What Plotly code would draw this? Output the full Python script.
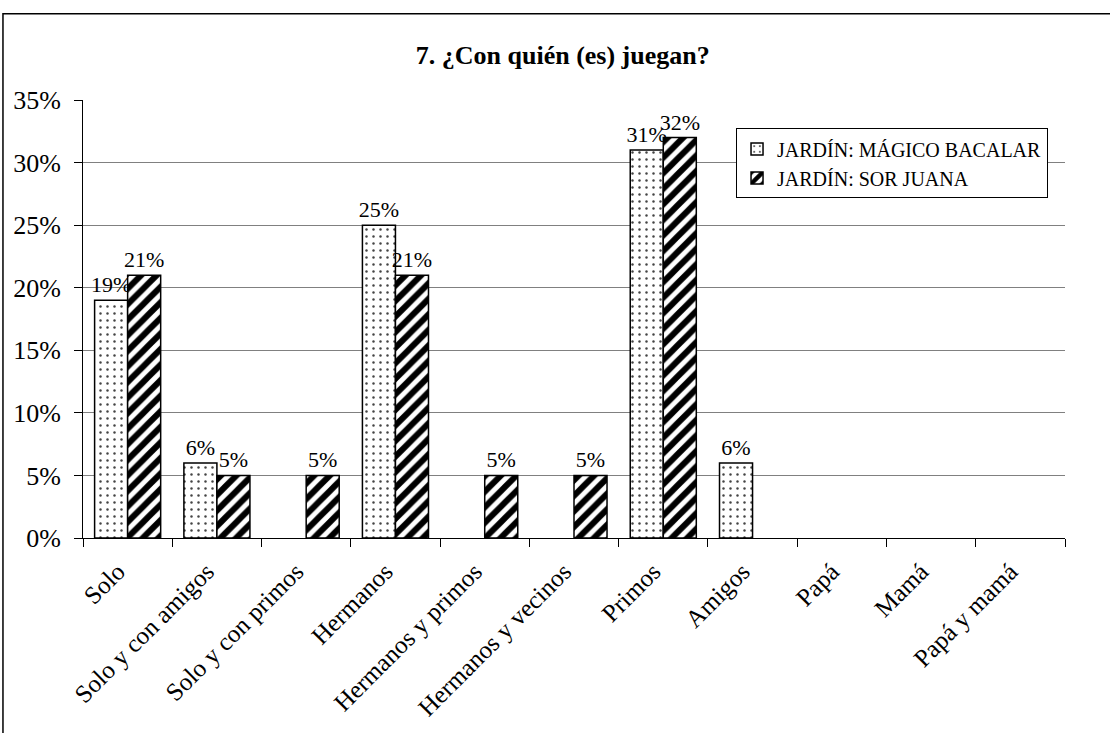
import plotly.graph_objects as go

# categories and percentages
categorias = ["Solo", "Solo y con amigos", "Solo y con primos", "Hermanos",
              "Hermanos y primos", "Hermanos y vecinos", "Primos", "Amigos",
              "Papá", "Mamá", "Papá y mamá"]
magico_bacalar = [19, 6, 0, 25, 0, 0, 31, 6, 0, 0, 0]
sor_juana = [21, 5, 5, 21, 5, 5, 32, 0, 0, 0, 0]
y_ticks = [0, 5, 10, 15, 20, 25, 30, 35]

FONT = "Liberation Serif"


def etiquetas(vals):
    return [f"{v}%" if v > 0 else "" for v in vals]


def sin_ceros(vals):
    # zero bars are not drawn in the original
    return [v if v > 0 else None for v in vals]


fig = go.Figure()

fig.add_trace(go.Bar(
    x=categorias, y=sin_ceros(magico_bacalar), name="JARDÍN: MÁGICO BACALAR",
    text=etiquetas(magico_bacalar), textposition="outside",
    textfont=dict(family=FONT, size=22, color="black"),
    cliponaxis=False, constraintext="none",
    marker=dict(color="white", line=dict(color="black", width=1.5),
                pattern=dict(shape=".", fgcolor="#444444", bgcolor="white",
                             size=7, solidity=0.1, fgopacity=1)),
))
fig.add_trace(go.Bar(
    x=categorias, y=sin_ceros(sor_juana), name="JARDÍN: SOR JUANA",
    text=etiquetas(sor_juana), textposition="outside",
    textfont=dict(family=FONT, size=22, color="black"),
    cliponaxis=False, constraintext="none",
    marker=dict(color="white", line=dict(color="black", width=1.5),
                pattern=dict(shape="/", fgcolor="black", bgcolor="white",
                             size=11, solidity=0.55, fgopacity=1)),
))

fig.update_layout(
    width=1110, height=733,
    margin=dict(l=83, r=45, t=100, b=192),
    paper_bgcolor="white", plot_bgcolor="white",
    font=dict(family=FONT, size=21, color="black"),
    barmode="group", bargap=0.26, bargroupgap=0,
    title=dict(text="<b>7. ¿Con quién (es) juegan?</b>", x=0.507, xref="container",
               y=0.925, yref="container", xanchor="center", yanchor="middle",
               font=dict(family=FONT, size=26, color="black")),
    showlegend=True,
    legend=dict(x=0.665, y=0.935, xanchor="left", yanchor="top",
                bordercolor="black", borderwidth=1, bgcolor="white",
                font=dict(family=FONT, size=20, color="black"),
                traceorder="normal", itemwidth=30,
                tracegroupgap=0),
)

fig.update_xaxes(
    showline=True, linecolor="black", linewidth=1,
    ticks="outside", ticklen=8, tickcolor="black", tickson="boundaries",
    tickangle=-45, tickfont=dict(family=FONT, size=25),
    ticklabelstandoff=8, ticklabelshift=-10, showgrid=False,
)
fig.update_yaxes(
    range=[0, 35], tickvals=y_ticks, ticktext=[f"{v}%" for v in y_ticks],
    showline=True, linecolor="black", linewidth=1,
    ticks="outside", ticklen=8, tickcolor="black",
    showgrid=True, gridcolor="#808080", gridwidth=1,
    tickfont=dict(family=FONT, size=26), zeroline=False,
    ticklabelstandoff=8,
)

# outer chart border
fig.add_shape(type="rect", xref="paper", yref="paper",
              x0=-0.0815, x1=1.05, y0=-0.5, y1=1.197,
              line=dict(color="black", width=1.5), layer="below")

fig.write_html("out.html", config={"displayModeBar": False},
               post_script="document.body.style.margin='0px';")
